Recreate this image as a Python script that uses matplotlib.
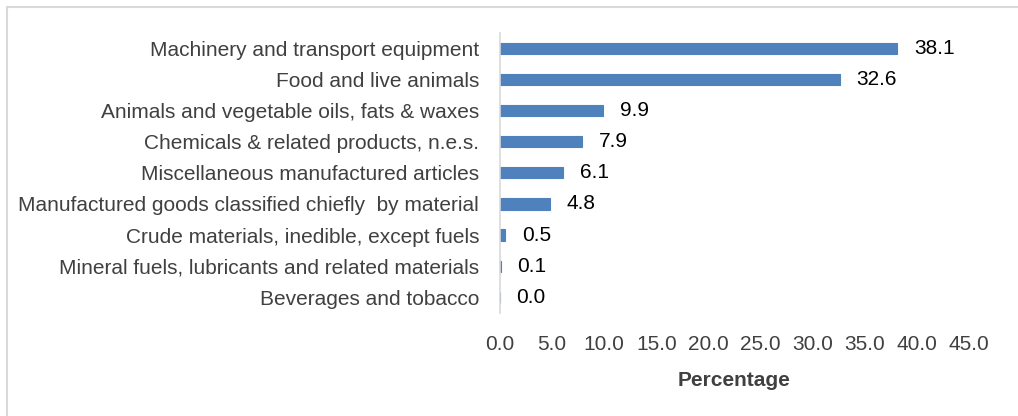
import matplotlib
matplotlib.use("Agg")
import matplotlib.pyplot as plt
from matplotlib.patches import Rectangle

# Data (top to bottom as shown)
categories = [
    "Machinery and transport equipment",
    "Food and live animals",
    "Animals and vegetable oils, fats & waxes",
    "Chemicals & related products, n.e.s.",
    "Miscellaneous manufactured articles",
    "Manufactured goods classified chiefly  by material",
    "Crude materials, inedible, except fuels",
    "Mineral fuels, lubricants and related materials",
    "Beverages and tobacco",
]
values = [38.1, 32.6, 9.9, 7.9, 6.1, 4.8, 0.5, 0.1, 0.0]
xticks = [0, 5, 10, 15, 20, 25, 30, 35, 40, 45]

plt.rcParams['font.family'] = ['Liberation Sans', 'DejaVu Sans']

fig = plt.figure(figsize=(10.18, 4.16), dpi=100)
ax = fig.add_axes([0.491, 0.248, 0.461, 0.673])

# Light grey chart border (runs off the right and bottom edges)
fig.patches.append(Rectangle((7 / 1018, -0.05), 1.1, 1 - 7 / 416 + 0.05,
                             transform=fig.transFigure, fill=False,
                             edgecolor='#D9D9D9', linewidth=1.5))

ypos = list(range(len(categories)))[::-1]
bars = ax.barh(ypos, values, height=0.36, color='#4F81BD',
               edgecolor='#4F81BD', linewidth=0.8)

for y, v in zip(ypos, values):
    ax.annotate(f"{v:.1f}", xy=(v, y), xytext=(12, 0), textcoords='offset points',
                va='center', ha='left', fontsize=15, color='black')

ax.set_xlim(0, 45)
ax.set_ylim(-0.5, len(categories) - 0.5)
ax.set_yticks(ypos)
ax.set_yticklabels(categories, fontsize=15, color='#404040')
ax.set_xticks(xticks)
ax.set_xticklabels([f"{t:.1f}" for t in xticks], fontsize=15, color='#404040')
ax.tick_params(axis='both', length=0)
ax.tick_params(axis='y', pad=15)
ax.tick_params(axis='x', pad=16)

ax.set_xlabel("Percentage", fontsize=15, fontweight='bold', color='#404040', labelpad=12)

for s in ['top', 'right', 'bottom']:
    ax.spines[s].set_visible(False)
ax.spines['left'].set_color('#D9D9D9')
ax.spines['left'].set_linewidth(1.2)

fig.savefig("out.png", dpi=100)
